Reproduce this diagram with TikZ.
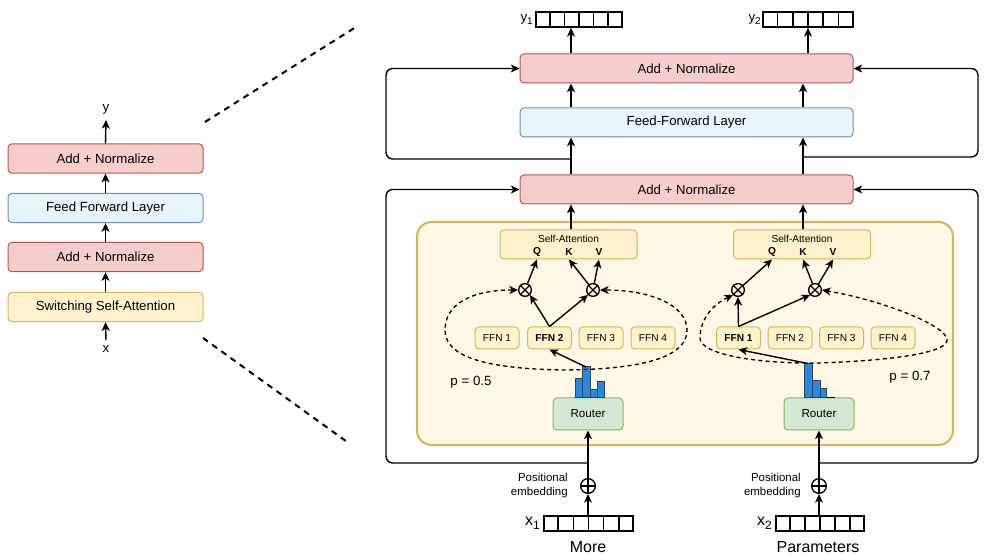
\documentclass[tikz,border=0pt]{standalone}
\usepackage{fontspec}
\setmainfont{Liberation Sans}
\usetikzlibrary{arrows.meta,calc}
\definecolor{redF}{HTML}{F8CECC}
\definecolor{redS}{HTML}{B85450}
\definecolor{bluF}{HTML}{E8F5FC}
\definecolor{bluS}{HTML}{6C8EBF}
\definecolor{yelF}{HTML}{FFF2CC}
\definecolor{yelS}{HTML}{D6B656}
\definecolor{conF}{HTML}{FFF8E6}
\definecolor{grnF}{HTML}{D5E8D4}
\definecolor{grnS}{HTML}{82B366}
\definecolor{barF}{HTML}{2289E6}
\newcommand\mysub[2]{#1\raisebox{-0.45ex}{\fontsize{#2}{#2}\selectfont 1}}
\begin{document}
\begin{tikzpicture}[x=0.75pt,y=-0.75pt,
  mybox/.style={draw, rounded corners=3pt, line width=0.75pt, inner sep=0pt, align=center},
  bigtxt/.style={font=\fontsize{9.9}{12}\selectfont},
  redbox/.style={mybox, bigtxt, fill=redF, draw=redS},
  blubox/.style={mybox, bigtxt, fill=bluF, draw=bluS},
  yelbox/.style={mybox, fill=yelF, draw=yelS},
  grnbox/.style={mybox, fill=grnF, draw=grnS, font=\fontsize{8.7}{10}\selectfont, minimum width=52.5pt, minimum height=24pt},
  lcol/.style={minimum width=146.25pt, minimum height=22pt},
  widebox/.style={minimum width=249.75pt, minimum height=21.75pt},
  ffn/.style={yelbox, minimum width=33pt, minimum height=16.5pt, font=\fontsize{7.6}{9}\selectfont},
  ffnb/.style={yelbox, minimum width=33pt, minimum height=16.5pt, font=\fontsize{7.6}{9}\selectfont\bfseries},
  sabox/.style={yelbox, minimum width=102.75pt, minimum height=21.75pt},
  sml/.style={font=\fontsize{7.6}{9}\selectfont, inner sep=0pt},
  sbold/.style={font=\fontsize{7.6}{9}\selectfont\bfseries, inner sep=0pt},
  mult/.style={circle, draw, line width=1pt, minimum size=9.5pt, inner sep=0pt},
  oplus/.style={circle, draw, line width=1pt, minimum size=11pt, inner sep=0pt},
  tokvec/.style={draw, line width=1.3pt, minimum height=11.25pt, inner sep=0pt},
  arr/.style={line width=1.05pt, -{Stealth[length=6.5pt,width=6pt,inset=1.8pt]}},
  wire/.style={line width=1.05pt},
  dsh/.style={line width=1pt, dash pattern=on 3pt off 2.5pt, {Stealth[length=6.5pt,width=6pt,inset=1.8pt]}-{Stealth[length=6.5pt,width=6pt,inset=1.8pt]}},
  histbar/.style={fill=barF, draw=black!75, line width=0.5pt},
  bigdash/.style={line width=1.5pt, dash pattern=on 4.5pt off 4pt},
]
\useasboundingbox (0,0) rectangle (986,555);

% ---------- left summary column ----------
\node[redbox, lcol] (lan1) at (105.5,158.5) {Add + Normalize};
\node[blubox, lcol] (lff) at (105.5,208) {Feed Forward Layer};
\node[redbox, lcol] (lan2) at (105.5,257) {Add + Normalize};
\node[yelbox, bigtxt, lcol] (lssa) at (105.5,307) {Switching Self-Attention};
\node[bigtxt, inner sep=4pt] (ylab) at (106,109.5) {y};
\node[bigtxt, inner sep=4pt] (xlab) at (106,349) {x};
\draw[arr] (lan1.north) -- (ylab.south);
\draw[arr] (lff.north) -- (lan1.south);
\draw[arr] (lan2.north) -- (lff.south);
\draw[arr] (lssa.north) -- (lan2.south);
\draw[arr] (xlab.north) -- (lssa.south);

% zoom lines
\coordinate (d1a) at (205,122); \coordinate (d1b) at (356,27);
\coordinate (d2a) at (203,338); \coordinate (d2b) at (350,444);
\draw[bigdash] (d1a) -- (d1b);
\draw[bigdash] (d2a) -- (d2b);

% ---------- container ----------
\node[draw=yelS, fill=conF, line width=1.6pt, rounded corners=11pt, minimum width=402pt, minimum height=167.25pt, inner sep=0pt] (cont) at (685,333.5) {};

% ---------- main stack ----------
\node[redbox, widebox] (an2) at (686.5,68.5) {Add + Normalize};
\node[blubox, widebox] (ffl) at (686.5,122.5) {Feed-Forward Layer};
\node[redbox, widebox] (an1) at (686.5,189.5) {Add + Normalize};

% self-attention boxes
\node[sabox] (sa1) at (568.5,244.5) {};
\node[sml] (sat1) at (568.5,239) {Self-Attention};
\node[sbold] (q1) at (537,252) {Q};
\node[sbold] (k1) at (569,252) {K};
\node[sbold] (v1) at (599,252) {V};
\node[sabox] (sa2) at (802,244.5) {};
\node[sml] (sat2) at (802,239) {Self-Attention};
\node[sbold] (q2) at (772,252) {Q};
\node[sbold] (k2) at (803,252) {K};
\node[sbold] (v2) at (833,252) {V};

% multiply circles
\node[mult] (c11) at (525,290) {};
\node[mult] (c12) at (593,290) {};
\node[mult] (c21) at (738,290) {};
\node[mult] (c22) at (815,290) {};
\foreach \c in {c11,c12,c21,c22}
  \draw[line width=0.9pt] (\c.north west) -- (\c.south east) (\c.north east) -- (\c.south west);

% FFN boxes
\node[ffn]  (f11) at (497,338) {FFN 1};
\node[ffnb] (f12) at (549.5,338) {FFN 2};
\node[ffn]  (f13) at (601,338) {FFN 3};
\node[ffn]  (f14) at (653,338) {FFN 4};
\node[ffnb] (f21) at (738.5,338) {FFN 1};
\node[ffn]  (f22) at (790,338) {FFN 2};
\node[ffn]  (f23) at (841.5,338) {FFN 3};
\node[ffn]  (f24) at (893,338) {FFN 4};

% routers
\node[grnbox] (r1) at (588,414) {Router};
\node[grnbox] (r2) at (819,414) {Router};

% histograms
\draw[histbar] (575.7,378.3) rectangle (582.7,397.5);
\draw[histbar] (582.7,366.7) rectangle (590,397.5);
\draw[histbar] (590,389) rectangle (597.3,397.5);
\draw[histbar] (597.3,381.7) rectangle (604.7,397.5);
\draw[histbar] (804,363.3) rectangle (812.3,397.5);
\draw[histbar] (812.3,380) rectangle (820,397.5);
\draw[histbar] (820,388.3) rectangle (826.7,397.5);
\draw[line width=0.9pt] (826.7,397.3) -- (835,397.3);
\coordinate (h1top) at (586,367);
\coordinate (h2top) at (808,363.5);

% p labels
\node[font=\fontsize{10}{12}\selectfont, inner sep=0pt] (pl1) at (471,382) {p = 0.5};
\node[font=\fontsize{10}{12}\selectfont, inner sep=0pt] (pl2) at (910,377) {p = 0.7};

% inner arrows left
\draw[arr] (c11) -- (sa1.south -| q1);
\draw[arr] (c12) -- (sa1.south -| k1);
\draw[arr] (c12) -- (sa1.south -| v1);
\draw[arr] (f12.north) -- (c11.south east);
\draw[arr] (f12.north) -- (c12.south west);
\draw[arr] (h1top) -- (f12.south);
% inner arrows right
\draw[arr] (c21) -- (sa2.south -| q2);
\draw[arr] (c22) -- (sa2.south -| k2);
\draw[arr] (c22) -- (sa2.south -| v2);
\draw[arr] (f21.north) -- (c21.south);
\draw[arr] (f21.north) -- (c22.south west);
\draw[arr] (h2top) -- (f21.south);

% dashed loops
\draw[dsh] (c11.west) .. controls (470,290) and (445,305) .. (445,330)
  .. controls (445,355) and (480,369) .. (566,370)
  .. controls (650,369) and (687,355) .. (687,330)
  .. controls (687,305) and (650,290) .. (c12.east);
\draw[dsh] (c21.south west) .. controls (712,305) and (700,320) .. (700,338)
  .. controls (700,355) and (760,364) .. (820,363)
  .. controls (900,360) and (947,352) .. (947,340)
  .. controls (947,325) and (880,300) .. (c22.east);

% columns and junctions
\coordinate (colL) at (571,0);
\coordinate (colR) at (803,0);
\coordinate (lx) at (386,0);
\coordinate (rx) at (978,0);
\coordinate (jL) at (571,159);
\coordinate (jR) at (803,157);
\coordinate (jBL) at (588,463);
\coordinate (jBR) at (819,463);

% output vectors
\node[tokvec, minimum width=64.5pt] (y1v) at (579,19.5) {};
\node[tokvec, minimum width=67.5pt] (y2v) at (808,19.5) {};
\node[tokvec, minimum width=66.75pt] (x1v) at (588.5,523.5) {};
\node[tokvec, minimum width=66pt] (x2v) at (820,523.5) {};
\foreach \v in {y1v,y2v,x1v,x2v}
  \foreach \i in {1,...,5}
    \draw[line width=1.3pt] ($(\v.south west)!\i/6!(\v.south east)$) -- ($(\v.north west)!\i/6!(\v.north east)$);
\node[font=\fontsize{10}{12}\selectfont, inner sep=0pt, anchor=east] (y1l) at (533,19.5) {\mysub{y}{7.5}};
\node[font=\fontsize{10}{12}\selectfont, inner sep=0pt, anchor=east] (y2l) at (761,19.5) {y\raisebox{-0.45ex}{\fontsize{7.5}{7.5}\selectfont 2}};
\node[font=\fontsize{12}{14}\selectfont, inner sep=0pt, anchor=east] (x1l) at (540,523.5) {\mysub{x}{9}};
\node[font=\fontsize{12}{14}\selectfont, inner sep=0pt, anchor=east] (x2l) at (772,523.5) {x\raisebox{-0.45ex}{\fontsize{9}{9}\selectfont 2}};
\node[font=\fontsize{12}{14}\selectfont, inner sep=0pt] (w1) at (588,547) {More};
\node[font=\fontsize{12}{14}\selectfont, inner sep=0pt] (w2) at (818,547) {Parameters};

% positional embedding
\node[oplus] (p1) at (588,486) {};
\node[oplus] (p2) at (819,486) {};
\foreach \c in {p1,p2}
  \draw[line width=0.9pt] (\c.north) -- (\c.south) (\c.west) -- (\c.east);
\node[font=\fontsize{8.6}{10.5}\selectfont, align=right, inner sep=0pt, anchor=east] (pe1) at (568,486) {Positional\\embedding};
\node[font=\fontsize{8.6}{10.5}\selectfont, align=right, inner sep=0pt, anchor=east] (pe2) at (801,486) {Positional\\embedding};
\draw[arr] (x1v.north -| p1) -- (p1.south);
\draw[arr] (p1.north) -- (r1.south);
\draw[arr] (x2v.north -| p2) -- (p2.south);
\draw[arr] (p2.north) -- (r2.south);

% vertical stack arrows
\draw[arr] (sa1.north -| colL) -- (an1.south -| colL);
\draw[arr] (an1.north -| colL) -- (ffl.south -| colL);
\draw[arr] (ffl.north -| colL) -- (an2.south -| colL);
\draw[arr] (an2.north -| colL) -- (y1v.south -| colL);
\draw[arr] (sa2.north -| colR) -- (an1.south -| colR);
\draw[arr] (an1.north -| colR) -- (ffl.south -| colR);
\draw[arr] (ffl.north -| colR) -- (an2.south -| colR);
\draw[arr] (an2.north -| y2v) -- (y2v.south);

% residual loops
\draw[arr, rounded corners=5pt] (jL) -- (jL -| lx) |- (an2.west);
\draw[arr, rounded corners=5pt] (jR) -- (jR -| rx) |- (an2.east);
\draw[arr, rounded corners=5pt] (jBL) -- (jBL -| lx) |- (an1.west);
\draw[arr, rounded corners=5pt] (jBR) -- (jBR -| rx) |- (an1.east);
\end{tikzpicture}
\end{document}
